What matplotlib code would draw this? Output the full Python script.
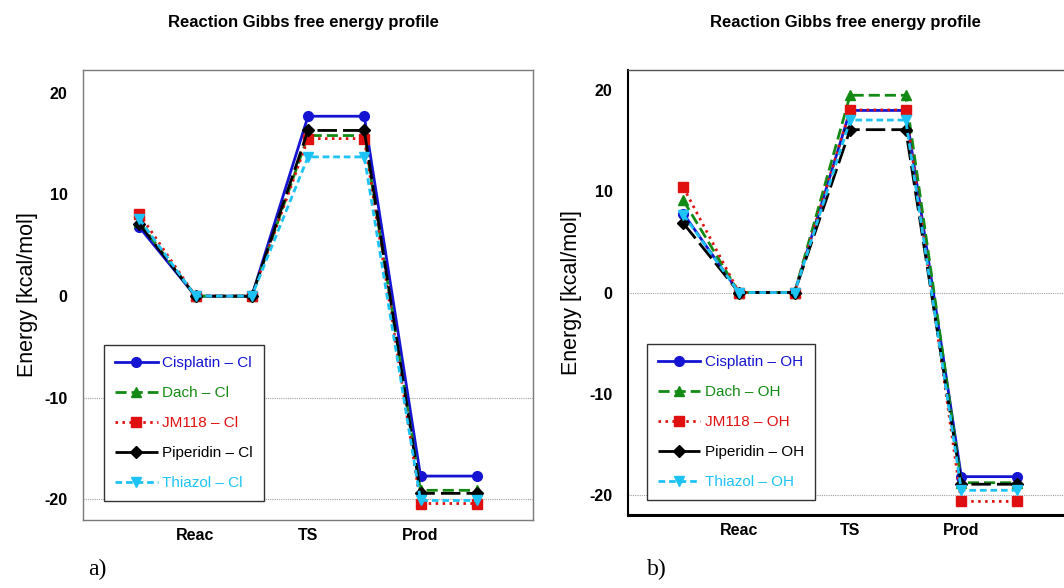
import matplotlib
matplotlib.use("Agg")
import matplotlib.pyplot as plt

plt.rcParams['font.family'] = ['Liberation Sans', 'DejaVu Sans']
plt.rcParams['axes.unicode_minus'] = False

# x positions: start, Reac, Reac, TS, TS, Prod, Prod
steps = [0, 1, 2, 3, 4, 5, 6]
tick_pos = [1, 3, 5]
tick_labels = ['Reac', 'TS', 'Prod']

names = ['Cisplatin', 'Dach', 'JM118', 'Piperidin', 'Thiazol']

# panel a) Cl leaving group: start, Reac (0), TS, Prod
cl_start = [6.8, 7.3, 8.1, 7.1, 7.6]
cl_ts = [17.7, 15.8, 15.5, 16.3, 13.7]
cl_prod = [-17.7, -19.1, -20.4, -19.4, -20.1]

# panel b) OH leaving group
oh_start = [7.8, 9.1, 10.4, 6.85, 7.7]
oh_ts = [18.0, 19.5, 18.05, 16.1, 17.05]
oh_prod = [-18.2, -18.8, -20.65, -18.95, -19.55]

colors = ['#1414d2', '#138a13', '#e01010', '#000000', '#1ec3f5']
markers = ['o', '^', 's', 'D', 'v']
msizes = [7, 6.5, 6.5, 6, 7]
dashes = [None, (4, 1.8), (0.9, 1.6), (7, 2.2), (2.4, 1.4)]

fig = plt.figure(figsize=(10.64, 5.88), dpi=100)
ax1 = fig.add_axes([0.078, 0.116, 0.423, 0.765])
ax2 = fig.add_axes([0.590, 0.124, 0.418, 0.757])


def profile(start, ts, prod):
    return [start, 0, 0, ts, ts, prod, prod]


def draw(ax, starts, tss, prods, suffix, grid_vals, ylim):
    for gy in grid_vals:
        ax.axhline(gy, color='#a0a0a0', lw=0.8, ls=(0, (1, 1)), zorder=0)
    for i, n in enumerate(names):
        ys = profile(starts[i], tss[i], prods[i])
        line, = ax.plot(steps, ys, color=colors[i], marker=markers[i],
                        markersize=msizes[i], lw=2.0,
                        label=n + ' \u2013 ' + suffix)
        if dashes[i] is not None:
            line.set_dashes(dashes[i])
    ax.set_xlim(-1, 7)
    ax.set_ylim(*ylim)
    ax.set_yticks([-20, -10, 0, 10, 20])
    ax.set_xticks(tick_pos)
    ax.set_xticklabels(tick_labels, fontweight='bold', fontsize=11.5)
    for t in ax.get_yticklabels():
        t.set_fontweight('bold')
        t.set_fontsize(11.5)
    ax.tick_params(axis='both', length=0)
    ax.tick_params(axis='y', pad=11)
    ax.tick_params(axis='x', pad=6)
    ax.set_ylabel('Energy [kcal/mol]', fontsize=15.5, labelpad=5)


draw(ax1, cl_start, cl_ts, cl_prod, 'Cl', [-10, -20], (-22, 22.25))
draw(ax2, oh_start, oh_ts, oh_prod, 'OH', [0, -20], (-22, 22))

for sp in ax1.spines.values():
    sp.set_color('#7a7a7a')
    sp.set_linewidth(1.0)
ax2.spines['left'].set_color('black')
ax2.spines['left'].set_linewidth(1.5)
ax2.spines['bottom'].set_color('black')
ax2.spines['bottom'].set_linewidth(2.2)
ax2.spines['top'].set_color('#555555')
ax2.spines['top'].set_linewidth(1.0)

leg_kw = dict(fontsize=11, labelcolor='linecolor', numpoints=1,
              handlelength=2.8, labelspacing=1.05, fancybox=False,
              edgecolor='#333333', framealpha=1, borderpad=0.7,
              handletextpad=0.3, borderaxespad=0, loc='lower left')
l1 = ax1.legend(bbox_to_anchor=(0.047, 0.042), **leg_kw)
l2 = ax2.legend(bbox_to_anchor=(0.043, 0.034), **leg_kw)
for lg in (l1, l2):
    lg.get_frame().set_linewidth(1.0)

fig.text(0.285, 0.962, 'Reaction Gibbs free energy profile',
         ha='center', va='center', fontsize=12, fontweight='bold')
fig.text(0.795, 0.962, 'Reaction Gibbs free energy profile',
         ha='center', va='center', fontsize=12, fontweight='bold')

fig.text(0.083, 0.022, 'a)', fontsize=17, family='Liberation Serif')
fig.text(0.608, 0.022, 'b)', fontsize=17, family='Liberation Serif')

fig.savefig('out.png', dpi=100)
